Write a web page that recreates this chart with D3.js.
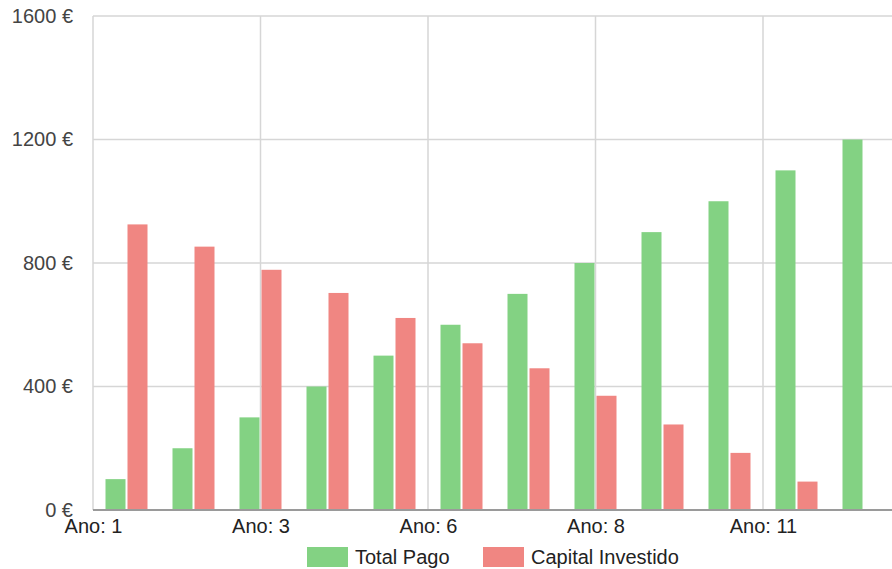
<!DOCTYPE html>
<html>
<head>
<meta charset="utf-8">
<script src="https://cdn.jsdelivr.net/npm/d3@7"></script>
<style>
  body { margin: 0; background: #fff; }
  text { font-family: "Liberation Sans", Arial, sans-serif; }
</style>
</head>
<body>
<div id="chart"></div>
<script>
// values
var years = ["1", "2", "3", "4", "5", "6", "7", "8", "9", "10", "11", "12"];
var totalPago = [100, 200, 300, 400, 500, 600, 700, 800, 900, 1000, 1100, 1200];
var capitalInvestido = [925, 853, 778, 703, 622, 540, 459, 370, 277, 185, 92, 0];
var seriesNames = ["Total Pago", "Capital Investido"];
var seriesColors = ["#83d283", "#f08682"];
var yTicks = [0, 400, 800, 1200, 1600];
var xTickPos = [0, 2.5, 5, 7.5, 10];
var xTickLabels = ["Ano: 1", "Ano: 3", "Ano: 6", "Ano: 8", "Ano: 11"];

function buildChart(section_id) {
    var W = 892, H = 569;
    var margin = {top: 16, left: 93};
    var plotW = 804, plotH = 494;
    var fontSize = "20px";

    var svg = d3.select(section_id).append("svg")
        .attr("width", W)
        .attr("height", H);
    var g = svg.append("g")
        .attr("transform", "translate(" + margin.left + "," + margin.top + ")");

    var rows = years.map(function(y, i) {
        return {year: y, values: [totalPago[i], capitalInvestido[i]]};
    });

    var x0 = d3.scaleBand().domain(years).range([0, plotW])
        .paddingInner(25 / 67).paddingOuter(12.5 / 67);
    var x1 = d3.scaleBand().domain([0, 1]).range([0, x0.bandwidth()])
        .paddingInner(2 / 22);
    var xLin = d3.scaleLinear().domain([0, years.length]).range([0, plotW]);
    var yScale = d3.scaleLinear().domain([0, 1600]).range([plotH, 0]);

    // horizontal gridlines
    g.append("g").selectAll("line")
        .data(yTicks.filter(function(d) { return d > 0; }))
        .enter().append("line")
        .attr("x1", 0).attr("x2", plotW)
        .attr("y1", function(d) { return yScale(d); })
        .attr("y2", function(d) { return yScale(d); })
        .attr("stroke", "#d6d6d6").attr("stroke-width", 1.5);

    // vertical gridlines
    g.append("g").selectAll("line")
        .data(xTickPos)
        .enter().append("line")
        .attr("x1", function(d) { return xLin(d); })
        .attr("x2", function(d) { return xLin(d); })
        .attr("y1", 0).attr("y2", plotH)
        .attr("stroke", "#d6d6d6").attr("stroke-width", 1.5);

    // bars
    var groups = g.selectAll(".grp")
        .data(rows)
        .enter().append("g")
        .attr("class", "grp")
        .attr("transform", function(d) { return "translate(" + x0(d.year) + ",0)"; });
    groups.selectAll("rect")
        .data(function(d) { return d.values; })
        .enter().append("rect")
        .filter(function(d) { return d > 0; })
        .attr("x", function(d, i) { return x1(i); })
        .attr("y", function(d) { return yScale(d); })
        .attr("width", x1.bandwidth())
        .attr("height", function(d) { return plotH - yScale(d); })
        .attr("fill", function(d, i) { return seriesColors[i]; });

    // baseline
    g.append("line")
        .attr("x1", 0).attr("x2", plotW)
        .attr("y1", yScale(0)).attr("y2", yScale(0))
        .attr("stroke", "#9a9a9a").attr("stroke-width", 2);

    // y axis labels
    var yAxis = d3.axisLeft(yScale).tickValues(yTicks)
        .tickFormat(function(d) { return d + " €"; })
        .tickSize(0).tickPadding(20);
    var ya = g.append("g").call(yAxis);
    ya.select(".domain").remove();
    ya.selectAll("text")
        .style("font-size", fontSize)
        .attr("fill", "#444");

    // x axis labels
    var xAxis = d3.axisBottom(xLin).tickValues(xTickPos)
        .tickFormat(function(d, i) { return xTickLabels[i]; })
        .tickSize(0).tickPadding(9);
    var xa = g.append("g").attr("transform", "translate(0," + plotH + ")").call(xAxis);
    xa.select(".domain").remove();
    xa.selectAll("text")
        .style("font-size", fontSize)
        .attr("fill", "#222");

    // legend
    var legendX = [307, 483];
    var legend = svg.append("g").selectAll("g")
        .data(seriesNames)
        .enter().append("g")
        .attr("transform", function(d, i) { return "translate(" + legendX[i] + ",547)"; });
    legend.append("rect")
        .attr("width", 41).attr("height", 20)
        .attr("fill", function(d, i) { return seriesColors[i]; });
    legend.append("text")
        .attr("x", 48).attr("y", 10)
        .attr("dy", "0.35em")
        .style("font-size", fontSize)
        .attr("fill", "#222")
        .text(function(d) { return d; });
}

buildChart("#chart");
</script>
</body>
</html>
